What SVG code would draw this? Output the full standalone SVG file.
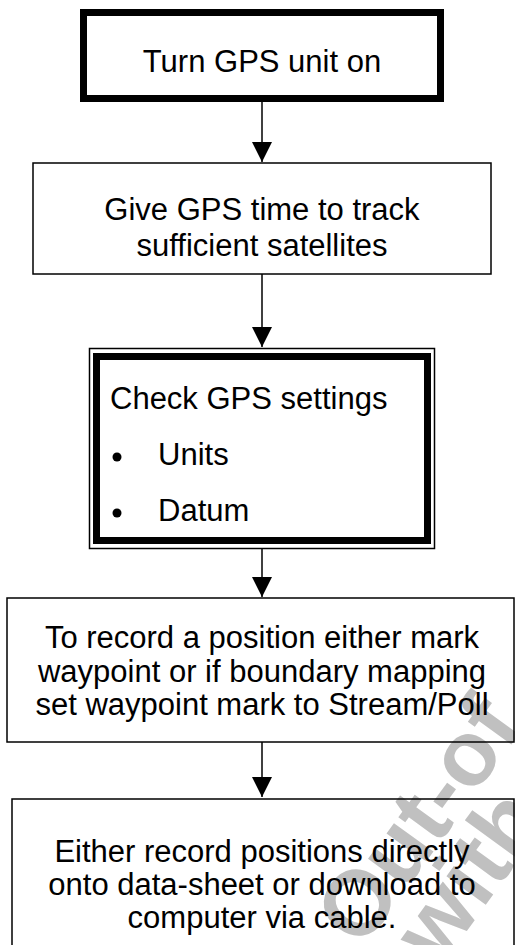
<svg xmlns="http://www.w3.org/2000/svg" width="515" height="945" viewBox="0 0 515 945">
<defs>
<style>
.box{fill:none;stroke:#000;stroke-width:1.5}
.thick{fill:none;stroke:#000;stroke-width:7}
.t{font-family:"Liberation Sans",Arial,sans-serif;font-size:31px;fill:#000}
.c{text-anchor:middle}
.ln{stroke:#000;stroke-width:1.5;fill:none}
.wm{font-family:"Liberation Sans",Arial,sans-serif;font-size:92px;font-weight:bold;fill:#c0c0c0}
</style>
<marker id="ah" viewBox="0 0 20 20" refX="20" refY="10" markerWidth="20" markerHeight="20" markerUnits="userSpaceOnUse" orient="auto">
<path d="M0,0 L20,10 L0,20 Z" fill="#000"/>
</marker>
</defs>
<rect width="515" height="945" fill="#fff"/>
<g id="watermark">
<text class="wm" transform="translate(362,950) rotate(-54)">Out-of</text>
<text class="wm" transform="translate(440,968) rotate(-54)">with</text>
</g>
<g id="connectors">
<line class="ln" x1="262" y1="102" x2="262" y2="162" marker-end="url(#ah)"/>
<line class="ln" x1="262" y1="274" x2="262" y2="347" marker-end="url(#ah)"/>
<line class="ln" x1="262" y1="549" x2="262" y2="597" marker-end="url(#ah)"/>
<line class="ln" x1="262" y1="742" x2="262" y2="797" marker-end="url(#ah)"/>
</g>
<g id="n1">
<rect class="thick" x="83.5" y="12.5" width="357" height="86"/>
<text class="t c" x="262" y="72">Turn GPS unit on</text>
</g>
<g id="n2">
<rect class="box" x="33" y="163" width="458" height="111"/>
<text class="t c" x="262" y="220">Give GPS time to track</text>
<text class="t c" x="262" y="256">sufficient satellites</text>
</g>
<g id="n3">
<rect class="box" x="89.5" y="348.5" width="345" height="200"/>
<rect class="thick" x="96.5" y="356.5" width="331" height="184"/>
<text class="t" x="110" y="409">Check GPS settings</text>
<circle cx="117" cy="457" r="4.5"/>
<text class="t" x="158" y="465">Units</text>
<circle cx="117" cy="513" r="4.5"/>
<text class="t" x="158" y="521">Datum</text>
</g>
<g id="n4">
<rect class="box" x="7" y="598" width="507" height="144"/>
<text class="t c" x="262" y="648">To record a position either mark</text>
<text class="t c" x="262" y="682">waypoint or if boundary mapping</text>
<text class="t c" x="262" y="715">set waypoint mark to Stream/Poll</text>
</g>
<g id="n5">
<rect class="box" x="12" y="799" width="502" height="160"/>
<text class="t c" x="262" y="862">Either record positions directly</text>
<text class="t c" x="262" y="895">onto data-sheet or download to</text>
<text class="t c" x="262" y="928">computer via cable.</text>
</g>
</svg>
